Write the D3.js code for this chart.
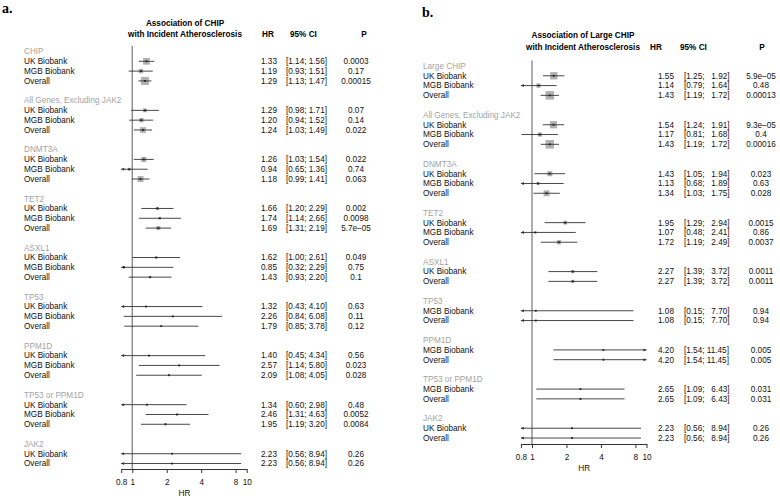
<!DOCTYPE html>
<html>
<head>
<meta charset="utf-8">
<script src="https://cdn.jsdelivr.net/npm/d3@7"></script>
<style>
  body { margin: 0; background: #fff; }
  svg text { font-family: "Liberation Sans", Arial, Helvetica, sans-serif; white-space: pre; }
</style>
</head>
<body>
<div id="chart"></div>
<script>
// ---- panel a data ----
var groupsA = ["CHIP", "All Genes, Excluding JAK2", "DNMT3A", "TET2", "ASXL1", "TP53", "PPM1D", "TP53 or PPM1D", "JAK2"];
var groupIdxA = [0,0,0, 1,1,1, 2,2,2, 3,3,3, 4,4,4, 5,5,5, 6,6,6, 7,7,7, 8,8];
var cohortA = ["UK Biobank","MGB Biobank","Overall", "UK Biobank","MGB Biobank","Overall",
  "UK Biobank","MGB Biobank","Overall", "UK Biobank","MGB Biobank","Overall",
  "UK Biobank","MGB Biobank","Overall", "UK Biobank","MGB Biobank","Overall",
  "UK Biobank","MGB Biobank","Overall", "UK Biobank","MGB Biobank","Overall",
  "UK Biobank","Overall"];
var hrA = [1.33,1.19,1.29, 1.29,1.20,1.24, 1.26,0.94,1.18, 1.66,1.74,1.69, 1.62,0.85,1.43, 1.32,2.26,1.79, 1.40,2.57,2.09, 1.34,2.46,1.95, 2.23,2.23];
var loA = [1.14,0.93,1.13, 0.98,0.94,1.03, 1.03,0.65,0.99, 1.20,1.14,1.31, 1.00,0.32,0.93, 0.43,0.84,0.85, 0.45,1.14,1.08, 0.60,1.31,1.19, 0.56,0.56];
var hiA = [1.56,1.51,1.47, 1.71,1.52,1.49, 1.54,1.36,1.41, 2.29,2.66,2.19, 2.61,2.29,2.20, 4.10,6.08,3.78, 4.34,5.80,4.05, 2.98,4.63,3.20, 8.94,8.94];
var pA = ["0.0003","0.17","0.00015", "0.07","0.14","0.022", "0.022","0.74","0.063", "0.002","0.0098","5.7e\u201305",
  "0.049","0.75","0.1", "0.63","0.11","0.12", "0.56","0.023","0.028", "0.48","0.0052","0.0084", "0.26","0.26"];

// ---- panel b data ----
var groupsB = ["Large CHIP", "All Genes, Excluding JAK2", "DNMT3A", "TET2", "ASXL1", "TP53", "PPM1D", "TP53 or PPM1D", "JAK2"];
var groupIdxB = [0,0,0, 1,1,1, 2,2,2, 3,3,3, 4,4, 5,5, 6,6, 7,7, 8,8];
var cohortB = ["UK Biobank","MGB Biobank","Overall", "UK Biobank","MGB Biobank","Overall",
  "UK Biobank","MGB Biobank","Overall", "UK Biobank","MGB Biobank","Overall",
  "UK Biobank","Overall", "MGB Biobank","Overall", "MGB Biobank","Overall",
  "MGB Biobank","Overall", "UK Biobank","Overall"];
var hrB = [1.55,1.14,1.43, 1.54,1.17,1.43, 1.43,1.13,1.34, 1.95,1.07,1.72, 2.27,2.27, 1.08,1.08, 4.20,4.20, 2.65,2.65, 2.23,2.23];
var loB = [1.25,0.79,1.19, 1.24,0.81,1.19, 1.05,0.68,1.03, 1.29,0.48,1.19, 1.39,1.39, 0.15,0.15, 1.54,1.54, 1.09,1.09, 0.56,0.56];
var hiB = [1.92,1.64,1.72, 1.91,1.68,1.72, 1.94,1.89,1.75, 2.94,2.41,2.49, 3.72,3.72, 7.70,7.70, 11.45,11.45, 6.43,6.43, 8.94,8.94];
var pB = ["5.9e\u201305","0.48","0.00013", "9.3e\u201305","0.4","0.00016", "0.023","0.63","0.028", "0.0015","0.86","0.0037",
  "0.0011","0.0011", "0.94","0.94", "0.005","0.005", "0.031","0.031", "0.26","0.26"];

var tickVals = [0.8, 1, 2, 4, 8, 10];

var width = 780, height = 498;
var svg = d3.select("#chart").append("svg")
    .attr("width", width)
    .attr("height", height);
svg.append("rect").attr("width", width).attr("height", height).attr("fill", "#fff");

var fs = 8.2;
var f2 = d3.format(".2f");

function drawPanel(p) {
    var g = svg.append("g");

    // rows: header, cohorts, blank
    var rows = [];
    var r = 0;
    p.groups.forEach(function(name, gi) {
        rows.push({type: "header", label: name, row: r});
        r++;
        p.groupIdx.forEach(function(k, i) {
            if (k === gi) {
                rows.push({type: "item", label: p.cohort[i], hr: p.hr[i], lo: p.lo[i], hi: p.hi[i], pv: p.pv[i], row: r});
                r++;
            }
        });
        r++;
    });

    var y = d3.scaleLinear().domain([0, 1]).range([p.row0, p.row0 + p.step]);
    var x = d3.scaleLog().domain([0.8, 10]).range([p.x0, p.x10]);

    // box sizes from precision (1/se)
    var items = rows.filter(function(d) { return d.type === "item"; });
    items.forEach(function(d) { d.se = (Math.log(d.hi) - Math.log(d.lo)) / 3.92; });
    var minSe = d3.min(items, function(d) { return d.se; });
    var box = d3.scaleLinear().domain([0, 1 / minSe]).range([0, p.maxBox]);

    // panel letter
    g.append("text")
        .attr("x", p.letterX).attr("y", p.letterY)
        .style("font-family", "'Liberation Serif', 'Times New Roman', serif")
        .style("font-weight", "bold").style("font-size", "14px")
        .text(p.letter);

    // title
    p.title.forEach(function(t, i) {
        g.append("text")
            .attr("x", p.titleX).attr("y", p.titleY + i * p.titleStep)
            .attr("text-anchor", "middle")
            .style("font-weight", "bold").style("font-size", fs + "px")
            .text(t);
    });
    var hy = p.titleY + p.titleStep;
    g.append("text").attr("x", p.hrHeadX).attr("y", hy).attr("text-anchor", "middle")
        .style("font-weight", "bold").style("font-size", fs + "px").text("HR");
    g.append("text").attr("x", p.ciHeadX).attr("y", hy)
        .style("font-weight", "bold").style("font-size", fs + "px").text("95% CI");
    g.append("text").attr("x", p.pHeadX).attr("y", hy).attr("text-anchor", "middle")
        .style("font-weight", "bold").style("font-size", fs + "px").text("P");

    // reference line at HR = 1
    g.append("line")
        .attr("x1", x(1)).attr("x2", x(1))
        .attr("y1", y(0) - p.step / 2 - 0.5).attr("y2", p.axisY)
        .attr("stroke", "#8a8a8a").attr("stroke-width", 1.4);

    // labels
    g.selectAll(".lab").data(rows).enter().append("text")
        .attr("class", "lab")
        .attr("x", p.labelX)
        .attr("y", function(d) { return y(d.row); })
        .attr("dy", "0.35em")
        .style("font-size", fs + "px")
        .attr("fill", function(d) { return d.type === "header" ? "#a3a3a3" : "#111"; })
        .text(function(d) { return d.label; });

    // columns
    g.selectAll(".hrv").data(items).enter().append("text")
        .attr("x", p.hrX).attr("y", function(d) { return y(d.row); })
        .attr("dy", "0.35em").attr("text-anchor", "middle")
        .style("font-size", fs + "px").attr("fill", "#111")
        .text(function(d) { return f2(d.hr); });
    g.selectAll(".civ").data(items).enter().append("text")
        .attr("x", p.ciX).attr("y", function(d) { return y(d.row); })
        .attr("dy", "0.35em")
        .style("font-size", fs + "px").attr("fill", "#111")
        .text(function(d) {
            var u = f2(d.hi);
            if (p.padCI) { while (u.length < 5) u = "\u2007" + u; u = " " + u; }
            else u = " " + u;
            return "[" + f2(d.lo) + ";" + u + "]";
        });
    g.selectAll(".pv").data(items).enter().append("text")
        .attr("x", p.pX).attr("y", function(d) { return y(d.row); })
        .attr("dy", "0.35em").attr("text-anchor", "middle")
        .style("font-size", fs + "px").attr("fill", "#111")
        .text(function(d) { return d.pv; });

    // boxes
    g.selectAll(".box").data(items).enter().append("rect")
        .attr("x", function(d) { return x(d.hr) - box(1 / d.se) / 2; })
        .attr("y", function(d) { return y(d.row) - box(1 / d.se) / 2; })
        .attr("width", function(d) { return box(1 / d.se); })
        .attr("height", function(d) { return box(1 / d.se); })
        .attr("fill", "#b0b0b0");

    // CI lines
    g.selectAll(".ci").data(items).enter().append("line")
        .attr("x1", function(d) { return x(Math.max(d.lo, 0.8)); })
        .attr("x2", function(d) { return x(Math.min(d.hi, 10)); })
        .attr("y1", function(d) { return y(d.row); })
        .attr("y2", function(d) { return y(d.row); })
        .attr("stroke", "#333").attr("stroke-width", 0.9);

    // arrows for truncated CIs
    g.selectAll(".arL").data(items.filter(function(d) { return d.lo < 0.8; })).enter().append("path")
        .attr("d", function(d) {
            var x0 = x(0.8), yy = y(d.row);
            return "M" + x0 + "," + yy + "L" + (x0 + 3) + "," + (yy - 1.5) + "L" + (x0 + 3) + "," + (yy + 1.5) + "Z";
        })
        .attr("fill", "#333");
    g.selectAll(".arR").data(items.filter(function(d) { return d.hi > 10; })).enter().append("path")
        .attr("d", function(d) {
            var x0 = x(10), yy = y(d.row);
            return "M" + x0 + "," + yy + "L" + (x0 - 3) + "," + (yy - 1.5) + "L" + (x0 - 3) + "," + (yy + 1.5) + "Z";
        })
        .attr("fill", "#333");

    // point estimate
    g.selectAll(".pt").data(items).enter().append("rect")
        .attr("x", function(d) { return x(d.hr) - 0.9; })
        .attr("y", function(d) { return y(d.row) - 0.9; })
        .attr("width", 1.8).attr("height", 1.8)
        .attr("fill", "#222");

    // axis
    var ax = g.append("g")
        .attr("transform", "translate(0," + p.axisY + ")")
        .call(d3.axisBottom(x).tickValues(tickVals).tickFormat(d3.format("")).tickSize(4).tickSizeOuter(0).tickPadding(6));
    ax.select(".domain").attr("stroke", "#333");
    ax.selectAll(".tick line").attr("stroke", "#333");
    ax.selectAll("text").style("font-size", fs + "px").style("font-family", "'Liberation Sans', Arial, sans-serif").attr("fill", "#111");

    g.append("text")
        .attr("x", x(Math.sqrt(0.8 * 10)) + 0.5).attr("y", p.axisY + 27)
        .attr("text-anchor", "middle")
        .style("font-size", fs + "px").attr("fill", "#111")
        .text("HR");
}

drawPanel({
    groups: groupsA, groupIdx: groupIdxA, cohort: cohortA, hr: hrA, lo: loA, hi: hiA, pv: pA,
    letter: "a.", letterX: 2, letterY: 13,
    title: ["Association of CHIP", "with Incident Atherosclerosis"],
    titleX: 185, titleY: 26, titleStep: 10.5,
    hrHeadX: 268, ciHeadX: 290, pHeadX: 364,
    labelX: 24, hrX: 269, ciX: 286, pX: 356, padCI: false,
    row0: 51.5, step: 9.81,
    x0: 121.2, x10: 246.7, axisY: 469, maxBox: 8
});

drawPanel({
    groups: groupsB, groupIdx: groupIdxB, cohort: cohortB, hr: hrB, lo: loB, hi: hiB, pv: pB,
    letter: "b.", letterX: 422, letterY: 17,
    title: ["Association of Large CHIP", "with Incident Atherosclerosis"],
    titleX: 583, titleY: 38, titleStep: 11.5,
    hrHeadX: 656, ciHeadX: 680, pHeadX: 762,
    labelX: 423, hrX: 666, ciX: 684, pX: 761, padCI: true,
    row0: 66, step: 9.79,
    x0: 520.9, x10: 646.5, axisY: 444, maxBox: 8.5
});
</script>
</body>
</html>
